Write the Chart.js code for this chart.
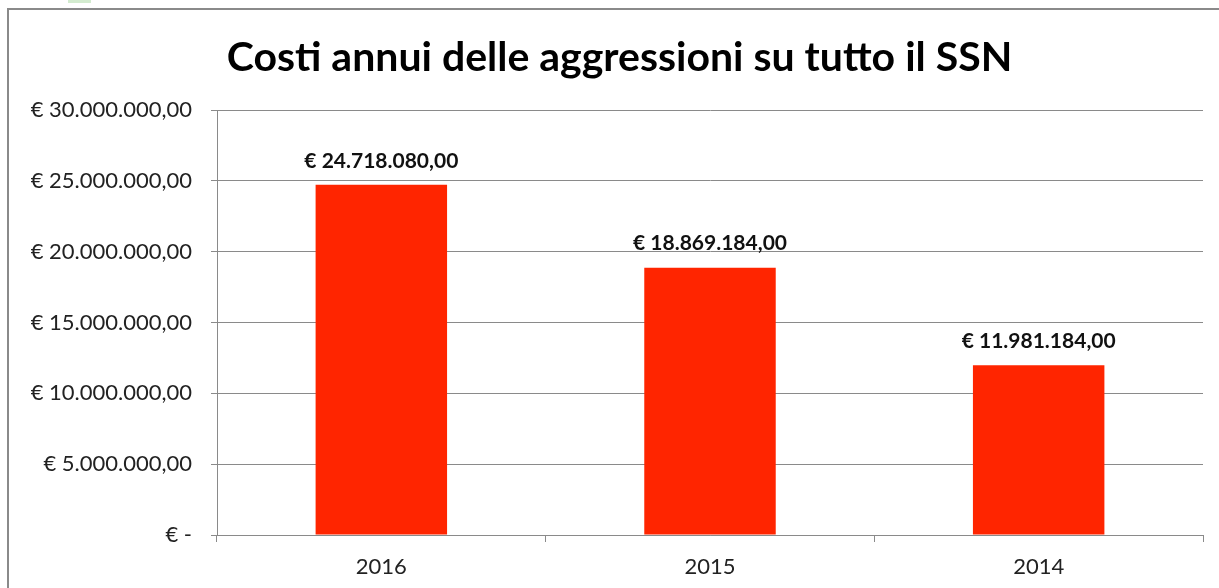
<!DOCTYPE html>
<html>
<head>
<meta charset="utf-8">
<script src="https://cdn.jsdelivr.net/npm/chart.js@4/dist/chart.umd.min.js"></script>
<style>
  html, body { margin: 0; padding: 0; background: #fff; }
  #wrap { position: relative; width: 1219px; height: 588px; overflow: hidden; }
  #c { position: absolute; left: 0; top: 0; }
  #frame { position: absolute; left: 7px; top: 8px; width: 1400px; height: 800px;
           border: 2px solid #8a8a8a; pointer-events: none; }
  #mark { position: absolute; left: 68px; top: 0; width: 23px; height: 3px; background: #d3ebcf; }
</style>
</head>
<body>
<div id="wrap">
  <canvas id="c" width="1219" height="588"></canvas>
  <div id="frame"></div>
  <div id="mark"></div>
</div>
<script>
const titleText = 'Costi annui delle aggressioni su tutto il SSN';
const categories = ['2016', '2015', '2014'];
const costs = [24718080, 18869184, 11981184];
const yTicks = [0, 5000000, 10000000, 15000000, 20000000, 25000000, 30000000];

function euro(v) {
  if (v === 0) return '€ -';
  const s = Math.round(v).toString().replace(/\B(?=(\d{3})+(?!\d))/g, '.');
  return '€ ' + s + ',00';
}

const FONT = 'Lato, "Open Sans", sans-serif';

const dataLabels = {
  id: 'dataLabels',
  afterDatasetsDraw(chart) {
    const ctx = chart.ctx;
    const meta = chart.getDatasetMeta(0);
    ctx.save();
    ctx.font = 'bold 21px ' + FONT;
    ctx.fillStyle = '#111';
    ctx.textAlign = 'center';
    ctx.textBaseline = 'middle';
    meta.data.forEach((el, i) => {
      ctx.fillText(euro(chart.data.datasets[0].data[i]), el.x, el.y - 24);
    });
    ctx.restore();
  }
};

const titlePlugin = {
  id: 'titleText',
  afterDraw(chart) {
    const ctx = chart.ctx;
    ctx.save();
    ctx.font = 'bold 41px ' + FONT;
    ctx.fillStyle = '#000';
    ctx.textAlign = 'center';
    ctx.textBaseline = 'middle';
    ctx.fillText(titleText, chart.width / 2 + 10, 58);
    ctx.restore();
  }
};

new Chart(document.getElementById('c'), {
  type: 'bar',
  data: {
    labels: categories,
    datasets: [{
      data: costs,
      backgroundColor: '#ff2500',
      borderWidth: 0,
      barPercentage: 0.4,
      categoryPercentage: 1.0
    }]
  },
  options: {
    responsive: false,
    animation: false,
    layout: { padding: { top: 110, right: 16, bottom: 8, left: 0 } },
    plugins: {
      legend: { display: false },
      tooltip: { enabled: false },
      title: { display: false }
    },
    scales: {
      x: {
        offset: true,
        afterFit(scale) { scale.height = 45; },
        grid: { offset: true, drawOnChartArea: false, drawTicks: true, tickLength: 7, color: '#8a8a8a' },
        border: { color: '#8a8a8a' },
        ticks: { color: '#222', font: { family: FONT, size: 22 }, padding: 12 }
      },
      y: {
        min: 0, max: 30000000,
        afterBuildTicks(scale) { scale.ticks = yTicks.map(v => ({ value: v })); },
        afterFit(scale) { scale.width = 217; },
        grid: { color: '#8a8a8a', tickLength: 6 },
        border: { color: '#8a8a8a' },
        ticks: { color: '#222', font: { family: FONT, size: 22 }, padding: 19, callback: v => euro(v) }
      }
    }
  },
  plugins: [dataLabels, titlePlugin]
});
</script>
</body>
</html>
